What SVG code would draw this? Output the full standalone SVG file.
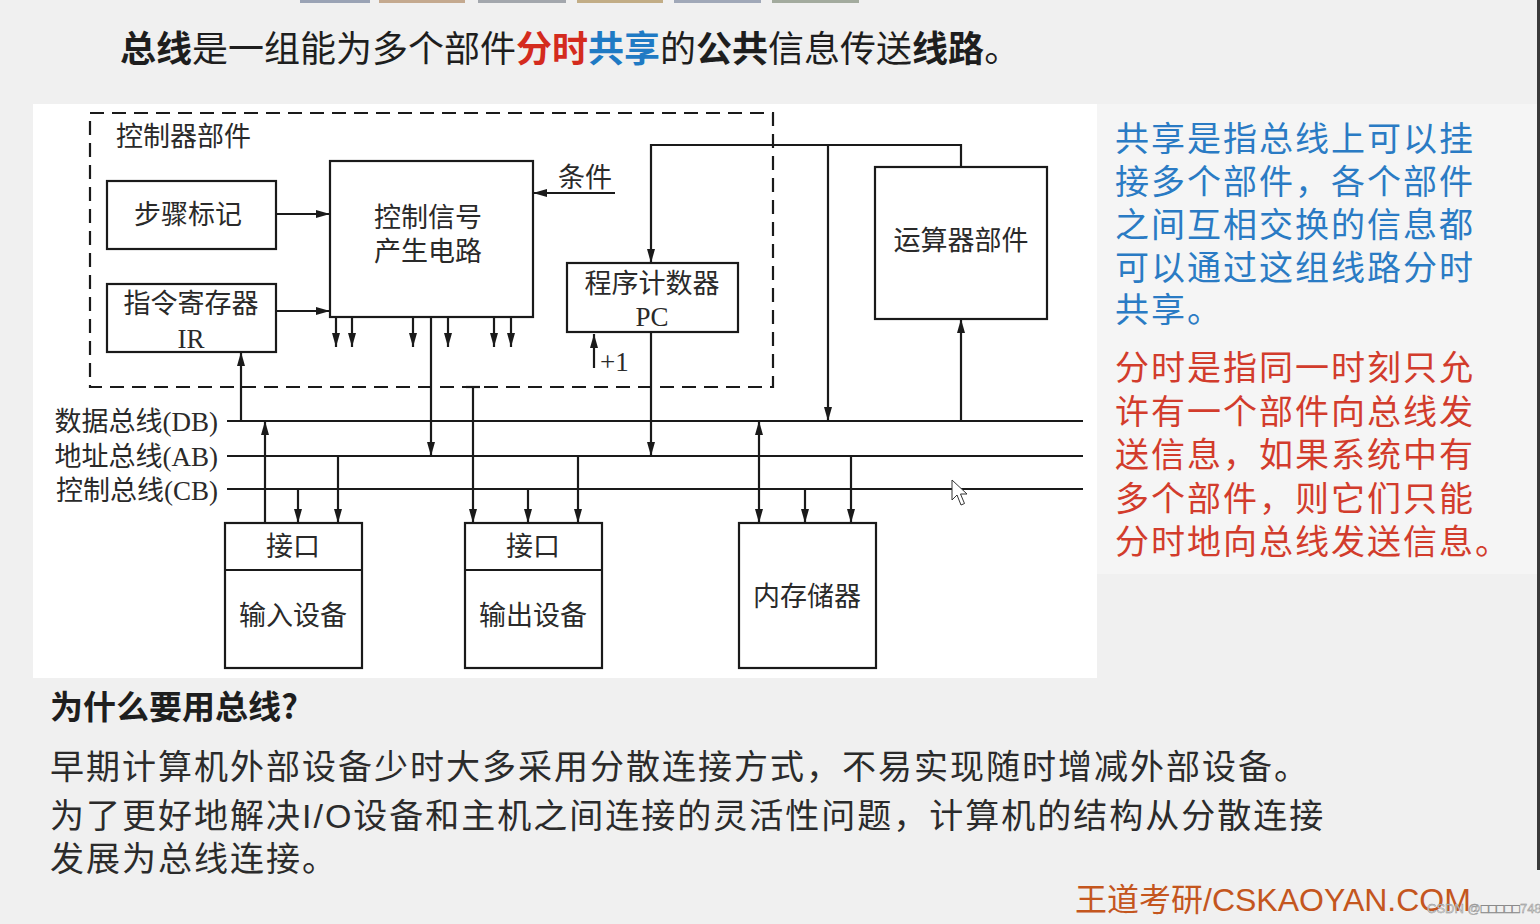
<svg xmlns="http://www.w3.org/2000/svg" width="1540" height="924" viewBox="0 0 1540 924">
<defs>
<marker id="ah" markerUnits="userSpaceOnUse" markerWidth="15" markerHeight="8" refX="14" refY="4" orient="auto">
<path d="M0,0 L14,4 L0,8 Z" fill="#1a1a1a"/>
</marker>
<marker id="ahs" markerUnits="userSpaceOnUse" markerWidth="15" markerHeight="8" refX="0" refY="4" orient="auto">
<path d="M14,0 L0,4 L14,8 Z" fill="#1a1a1a"/>
</marker>
<style>
.bx{fill:none;stroke:#1a1a1a;stroke-width:2.2}
.ln{fill:none;stroke:#1a1a1a;stroke-width:2.2}
.ar{fill:none;stroke:#1a1a1a;stroke-width:2.2;marker-end:url(#ah)}
.t{font-family:"Noto Sans CJK SC","Liberation Sans",sans-serif;font-size:27px;fill:#2a2a2a}
.m{text-anchor:middle}
.s{font-family:"Liberation Serif","Noto Sans CJK SC",serif;font-size:27px;fill:#2a2a2a}
.bus{font-family:"Noto Sans CJK SC","Liberation Sans",sans-serif;font-size:27px;fill:#2a2a2a;text-anchor:end}
.bl{font-family:"Noto Sans CJK SC","Liberation Sans",sans-serif;font-size:34px;letter-spacing:2px}
.blue{fill:#2a7bc4}
.red{fill:#d23c2c}
.body{font-family:"Liberation Sans","Noto Sans CJK SC",sans-serif;font-size:34px;letter-spacing:2px;fill:#2b2b2b}
</style>
</defs>
<rect x="0" y="0" width="1540" height="924" fill="#f0f0f0"/>
<rect x="1097" y="104" width="440" height="470" fill="#f5f5f5"/>
<rect x="1537" y="0" width="3" height="870" fill="#3a3a3a"/>
<g id="tabs">
<rect x="300" y="0" width="70" height="3" fill="#9aa3b5"/>
<rect x="379" y="0" width="86" height="3" fill="#c4a98f"/>
<rect x="478" y="0" width="88" height="3" fill="#a3a7ad"/>
<rect x="577" y="0" width="86" height="3" fill="#c2ad86"/>
<rect x="674" y="0" width="87" height="3" fill="#a0a8b8"/>
<rect x="772" y="0" width="87" height="3" fill="#a3ab9e"/>
</g>
<g id="title">
<text x="120" y="62" font-family="Noto Sans CJK SC, Liberation Sans, sans-serif" font-size="36" fill="#1e1e1e"><tspan font-weight="bold">总线</tspan>是一组能为多个部件<tspan font-weight="bold" fill="#d42b1e">分时</tspan><tspan font-weight="bold" fill="#1f7ac4">共享</tspan>的<tspan font-weight="bold">公共</tspan>信息传送<tspan font-weight="bold">线路</tspan>。</text>
</g>
<rect x="33" y="104" width="1064" height="574" fill="#ffffff"/>
<g id="controller">
<rect x="90" y="113" width="683" height="274" fill="none" stroke="#1a1a1a" stroke-width="2.2" stroke-dasharray="14 8"/>
<text class="t" x="116" y="146">控制器部件</text>
</g>
<g id="step">
<rect class="bx" x="107" y="181" width="169" height="68"/>
<text class="t m" x="188" y="224">步骤标记</text>
</g>
<g id="ir">
<rect class="bx" x="107" y="284" width="169" height="68"/>
<text class="t m" x="191" y="313">指令寄存器</text>
<text class="s m" x="191" y="348">IR</text>
</g>
<g id="ctrl">
<rect class="bx" x="330" y="161" width="203" height="156"/>
<text class="t m" x="428" y="227">控制信号</text>
<text class="t m" x="428" y="261">产生电路</text>
</g>
<g id="cond">
<text class="t" x="558" y="187">条件</text>
</g>
<g id="pc">
<rect class="bx" x="567" y="263" width="171" height="69"/>
<text class="t m" x="652" y="293">程序计数器</text>
<text class="s m" x="652" y="326">PC</text>
<text class="s" x="600" y="371" font-size="26">+1</text>
</g>
<g id="alu">
<rect class="bx" x="875" y="167" width="172" height="152"/>
<text class="t m" x="961" y="250">运算器部件</text>
</g>
<g id="buses">
<line class="ln" x1="227" y1="421" x2="1083" y2="421"/>
<line class="ln" x1="227" y1="456" x2="1083" y2="456"/>
<line class="ln" x1="227" y1="489" x2="1083" y2="489"/>
<text x="218" y="431" class="bus">数据总线<tspan class="s">(DB)</tspan></text>
<text x="218" y="466" class="bus">地址总线<tspan class="s">(AB)</tspan></text>
<text x="218" y="500" class="bus">控制总线<tspan class="s">(CB)</tspan></text>
</g>
<g id="input">
<rect class="bx" x="225" y="523" width="137" height="145"/>
<line class="ln" x1="225" y1="570" x2="362" y2="570"/>
<text class="t m" x="293" y="556">接口</text>
<text class="t m" x="293" y="625">输入设备</text>
</g>
<g id="output">
<rect class="bx" x="465" y="523" width="137" height="145"/>
<line class="ln" x1="465" y1="570" x2="602" y2="570"/>
<text class="t m" x="533" y="556">接口</text>
<text class="t m" x="533" y="625">输出设备</text>
</g>
<g id="memory">
<rect class="bx" x="739" y="523" width="137" height="145"/>
<text class="t m" x="807" y="606">内存储器</text>
</g>
<g id="connectors">
<line class="ar" x1="276" y1="214" x2="330" y2="214"/>
<line class="ar" x1="276" y1="311" x2="330" y2="311"/>
<line class="ar" x1="615" y1="193" x2="533" y2="193"/>
<line class="ar" x1="336" y1="317" x2="336" y2="347"/>
<line class="ar" x1="352" y1="317" x2="352" y2="347"/>
<line class="ar" x1="413" y1="317" x2="413" y2="347"/>
<line class="ar" x1="448" y1="317" x2="448" y2="347"/>
<line class="ar" x1="494" y1="317" x2="494" y2="347"/>
<line class="ar" x1="511" y1="317" x2="511" y2="347"/>
<line class="ar" x1="431" y1="317" x2="431" y2="456"/>
<line class="ar" x1="241" y1="421" x2="241" y2="352"/>
<path class="ar" d="M961,167 V145 H651 V263"/>
<line class="ar" x1="828" y1="145" x2="828" y2="421"/>
<line class="ar" x1="961" y1="421" x2="961" y2="319"/>
<line class="ar" x1="651" y1="332" x2="651" y2="456"/>
<line class="ar" x1="594" y1="368" x2="594" y2="334"/>
<line class="ar" x1="265" y1="523" x2="265" y2="421"/>
<line class="ar" x1="298" y1="489" x2="298" y2="523"/>
<line class="ar" x1="338" y1="456" x2="338" y2="523"/>
<line class="ln" x1="466" y1="387" x2="480" y2="387"/>
<line class="ar" x1="473" y1="387" x2="473" y2="523"/>
<line class="ar" x1="528" y1="489" x2="528" y2="523"/>
<line class="ar" x1="578" y1="456" x2="578" y2="523"/>
<line class="ar" x1="759" y1="421" x2="759" y2="523" style="marker-start:url(#ahs)"/>
<line class="ar" x1="805" y1="489" x2="805" y2="523"/>
<line class="ar" x1="851" y1="456" x2="851" y2="523"/>
</g>
<path id="cursor" d="M952,480 L952,500 L957,495 L961,505 L964.5,503.5 L960.5,494 L967,494 Z" fill="#ffffff" stroke="#333" stroke-width="1"/>
<g id="notes">
<text class="bl blue" x="1115" y="151">共享是指总线上可以挂</text>
<text class="bl blue" x="1115" y="194">接多个部件，各个部件</text>
<text class="bl blue" x="1115" y="237">之间互相交换的信息都</text>
<text class="bl blue" x="1115" y="280">可以通过这组线路分时</text>
<text class="bl blue" x="1115" y="322">共享。</text>
<text class="bl red" x="1115" y="380">分时是指同一时刻只允</text>
<text class="bl red" x="1115" y="424">许有一个部件向总线发</text>
<text class="bl red" x="1115" y="467">送信息，如果系统中有</text>
<text class="bl red" x="1115" y="511">多个部件，则它们只能</text>
<text class="bl red" x="1115" y="554">分时地向总线发送信息。</text>
</g>
<g id="why">
<text x="50" y="719" font-family="Noto Sans CJK SC, Liberation Sans, sans-serif" font-size="33" font-weight="bold" fill="#1e1e1e">为什么要用总线?</text>
<text class="body" x="50" y="779">早期计算机外部设备少时大多采用分散连接方式，不易实现随时增减外部设备。</text>
<text class="body" x="50" y="828">为了更好地解决I/O设备和主机之间连接的灵活性问题，计算机的结构从分散连接</text>
<text class="body" x="50" y="871">发展为总线连接。</text>
</g>
<g id="watermark">
<text x="1075" y="911" font-family="Liberation Sans, Noto Sans CJK SC, sans-serif" font-size="32" fill="#c4561e">王道考研/CSKAOYAN.COM</text>
<text x="1427" y="913" font-family="Liberation Sans, Noto Sans CJK SC, sans-serif" font-size="13" fill="#d8d8d8" stroke="#8a8a8a" stroke-width="0.4">CSDN @□□□□□748</text>
</g>
</svg>
